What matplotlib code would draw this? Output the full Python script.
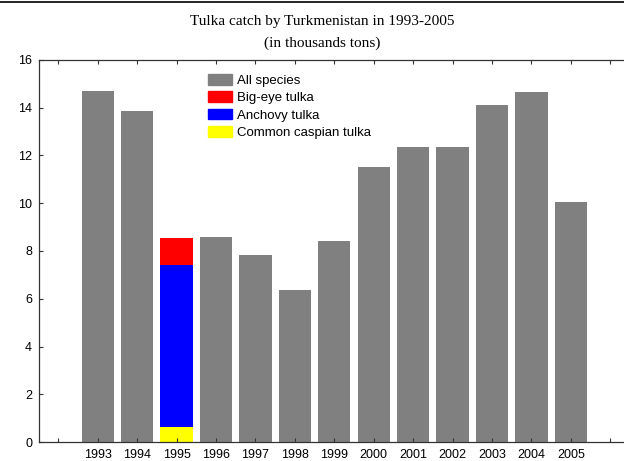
import matplotlib
matplotlib.use("Agg")
import matplotlib.pyplot as plt
from matplotlib.patches import Patch
from matplotlib.lines import Line2D

years = [1993, 1994, 1995, 1996, 1997, 1998, 1999, 2000, 2001, 2002, 2003, 2004, 2005]
all_species = [14.71, 13.86, 0, 8.57, 7.83, 6.37, 8.42, 11.52, 12.36, 12.36, 14.12, 14.66, 10.05]
year_1995 = [1995]
common_caspian = [0.62]
anchovy = [6.79]
big_eye = [1.12]
legend_labels = ["All species", "Big-eye tulka", "Anchovy tulka", "Common caspian tulka"]

W, H = 624, 461
fig = plt.figure(figsize=(W / 100, H / 100), dpi=100)
plt.rcParams['font.family'] = ['Liberation Sans', 'DejaVu Sans']

left, right, top, bottom = 39, 624, 60, 442
ax = fig.add_axes([left / W, 1 - bottom / H, (right - left) / W, (bottom - top) / H])

gray = "#808080"
bw = 0.82
yrs_all = [y for y, v in zip(years, all_species) if v > 0]
vals_all = [v for v in all_species if v > 0]
ax.bar(yrs_all, vals_all, width=bw, color=gray, linewidth=0)
ax.bar(year_1995, common_caspian, width=bw, color="#ffff00", linewidth=0)
ax.bar(year_1995, anchovy, bottom=common_caspian, width=bw, color="#0000ff", linewidth=0)
ax.bar(year_1995, big_eye, bottom=[c + a for c, a in zip(common_caspian, anchovy)],
       width=bw, color="#ff0000", linewidth=0)

ax.set_xlim(1991.51, 2006.35)
ax.set_ylim(0, 16)
ax.set_xticks(list(range(1992, 2007)))
ax.set_xticklabels([""] + [str(y) for y in years] + [""])
ax.set_yticks(range(0, 17, 2))
ax.tick_params(axis='x', direction='in', length=3, top=True, width=0.8, color="#333333",
               labelsize=9, pad=5)
ax.tick_params(axis='y', direction='in', length=3, width=0.8, color="#333333",
               labelsize=9, pad=5)
for s in ['left', 'bottom', 'top']:
    ax.spines[s].set_color("#333333")
    ax.spines[s].set_linewidth(0.9)
ax.spines['right'].set_visible(False)

handles = [Patch(color=gray), Patch(color="#ff0000"), Patch(color="#0000ff"), Patch(color="#ffff00")]
fig.legend(handles, legend_labels, loc='upper left',
           bbox_to_anchor=(208 / W, 1 - 74 / H), frameon=False, fontsize=9.5,
           handlelength=1.82, handleheight=0.85, labelspacing=0.35, handletextpad=0.38,
           borderpad=0, borderaxespad=0)

fig.text(322 / W, 1 - 21 / H, "Tulka catch by Turkmenistan in 1993-2005",
         ha='center', va='center', fontsize=11, family='Liberation Serif')
fig.text(322 / W, 1 - 43 / H, "(in thousands tons)",
         ha='center', va='center', fontsize=11, family='Liberation Serif')

# top border line artifact
fig.add_artist(Line2D([0, 1], [1 - 2 / H, 1 - 2 / H], transform=fig.transFigure, color='black', lw=1.2))

fig.savefig("out.png", dpi=100)
